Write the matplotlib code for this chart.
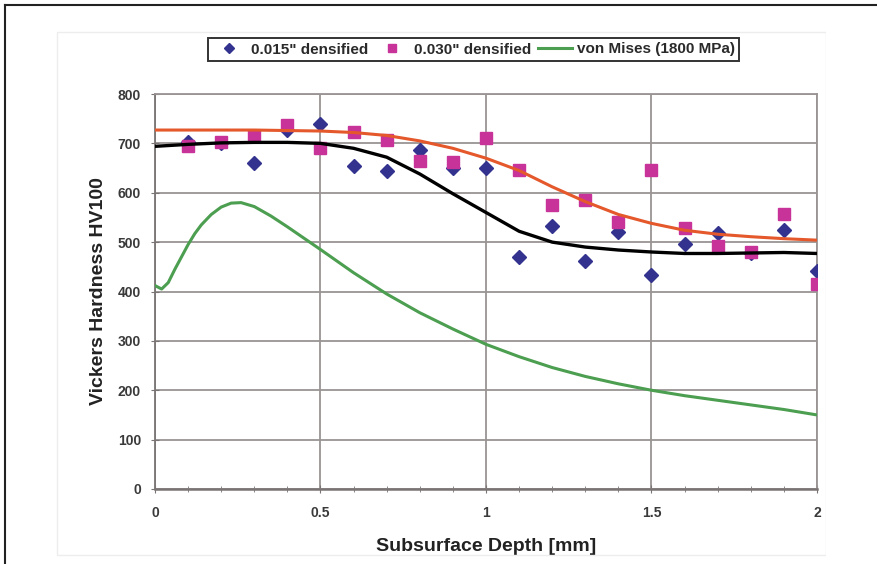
import matplotlib.pyplot as plt
from matplotlib.lines import Line2D
from matplotlib.patches import Rectangle
from matplotlib.ticker import MultipleLocator

plt.rcParams['font.family'] = ['Liberation Sans', 'DejaVu Sans']

# measured hardness, every 0.1 mm
depth = [0.1, 0.2, 0.3, 0.4, 0.5, 0.6, 0.7, 0.8, 0.9, 1.0,
         1.1, 1.2, 1.3, 1.4, 1.5, 1.6, 1.7, 1.8, 1.9, 2.0]
hv_015 = [703, 700, 661, 728, 740, 654, 644, 686, 650, 651,
          470, 533, 462, 521, 433, 497, 518, 478, 524, 442]
hv_030 = [695, 703, 715, 737, 690, 723, 706, 665, 663, 710,
          647, 575, 585, 540, 647, 529, 492, 480, 556, 416]

# fitted curves
fit_x = [0, 0.1, 0.2, 0.3, 0.4, 0.5, 0.6, 0.7, 0.8, 0.9, 1.0,
         1.1, 1.2, 1.3, 1.4, 1.5, 1.6, 1.7, 1.8, 1.9, 2.0]
fit_030 = [727, 727, 727, 727, 726, 725, 722, 716, 705, 690, 670,
           645, 612, 582, 556, 538, 524, 516, 511, 507, 504]
fit_015 = [694, 698, 701, 702, 702, 700, 690, 672, 638, 598, 560,
           522, 500, 490, 484, 480, 477, 477, 478, 479, 477]

# von Mises stress curve
vm_x = [0, 0.02, 0.04, 0.06, 0.08, 0.1, 0.12, 0.14, 0.17, 0.2, 0.23, 0.26,
        0.3, 0.35, 0.4, 0.45, 0.5, 0.6, 0.7, 0.8, 0.9, 1.0, 1.1, 1.2,
        1.3, 1.4, 1.5, 1.6, 1.75, 1.9, 2.0]
vm_y = [412, 405, 418, 445, 470, 495, 517, 535, 556, 571, 579, 580,
        572, 553, 531, 508, 485, 438, 395, 357, 324, 293, 268, 246,
        228, 213, 200, 189, 175, 161, 150]

fig = plt.figure(figsize=(8.78, 5.64), dpi=100)
ax = fig.add_axes([155 / 878, 75 / 564, 662 / 878, 395 / 564])

ax.plot(depth, hv_015, 'D', color='#33338F', markersize=7, label='0.015" densified', zorder=3)
ax.plot(depth, hv_030, 's', color='#C8339A', markersize=8, label='0.030" densified', zorder=3)
ax.plot(fit_x, fit_015, color='black', linewidth=2.4, zorder=4)
ax.plot(fit_x, fit_030, color='#E4582B', linewidth=2.2, zorder=4)
ax.plot(vm_x, vm_y, color='#4C9E50', linewidth=2.2, label='von Mises (1800 MPa)', zorder=4)

ax.set_xlim(0, 2)
ax.set_ylim(0, 800)
ax.xaxis.set_major_locator(MultipleLocator(0.5))
ax.xaxis.set_minor_locator(MultipleLocator(0.1))
ax.yaxis.set_major_locator(MultipleLocator(100))
ax.set_xticks([0, 0.5, 1, 1.5, 2])
ax.set_xticklabels(['0', '0.5', '1', '1.5', '2'])

ax.grid(True, which='major', color='#9A9494', linewidth=1.3)
ax.set_axisbelow(True)
for s in ax.spines.values():
    s.set_color('#9A9494')
    s.set_linewidth(1.3)
ax.spines['left'].set_color('#7A7474')
ax.spines['bottom'].set_color('#7A7474')
ax.spines['bottom'].set_linewidth(1.8)

ax.tick_params(axis='both', which='major', direction='inout', length=6,
               color='#7A7474', labelsize=10, labelcolor='#3A3A3A')
ax.tick_params(axis='x', which='minor', direction='inout', length=4, color='#7A7474')
ax.tick_params(axis='x', pad=9)
ax.tick_params(axis='y', pad=7)
for lbl in ax.get_xticklabels() + ax.get_yticklabels():
    lbl.set_fontweight('bold')

ax.set_xlabel('Subsurface Depth [mm]', fontsize=14, fontweight='bold', labelpad=13,
              color='#222222')
ax.set_ylabel('Vickers Hardness HV100', fontsize=14, fontweight='bold', labelpad=8,
              color='#222222')

leg = fig.legend(loc='center', bbox_to_anchor=(473.5 / 878, 1 - 49.5 / 564), ncol=3,
                 fontsize=11, frameon=True, fancybox=False, handlelength=2.2,
                 columnspacing=0.5, handletextpad=0.3, borderpad=0.3,
                 markerscale=0.75)
leg.get_frame().set_edgecolor('black')
leg.get_frame().set_linewidth(1.4)
for t in leg.get_texts():
    t.set_fontweight('bold')
    t.set_color('#2A2A2A')

# faint chart-area outline and outer page frame
fig.add_artist(Rectangle((57 / 878, 1 - 555 / 564), (826 - 57) / 878, (555 - 32) / 564,
                         transform=fig.transFigure, fill=False, edgecolor='#EDEDED',
                         linewidth=1))
fig.add_artist(Rectangle((826 / 878, 0), 52 / 878, 1 - 10 / 564, transform=fig.transFigure,
                         facecolor='white', edgecolor='none', zorder=10))
fig.add_artist(Line2D([5 / 878, 1], [1 - 5 / 564, 1 - 5 / 564], transform=fig.transFigure,
                      color='#222222', linewidth=1.5, zorder=11))
fig.add_artist(Line2D([5 / 878, 5 / 878], [0, 1 - 5 / 564], transform=fig.transFigure,
                      color='#222222', linewidth=1.5, zorder=11))

fig.savefig('out.png', dpi=100)
